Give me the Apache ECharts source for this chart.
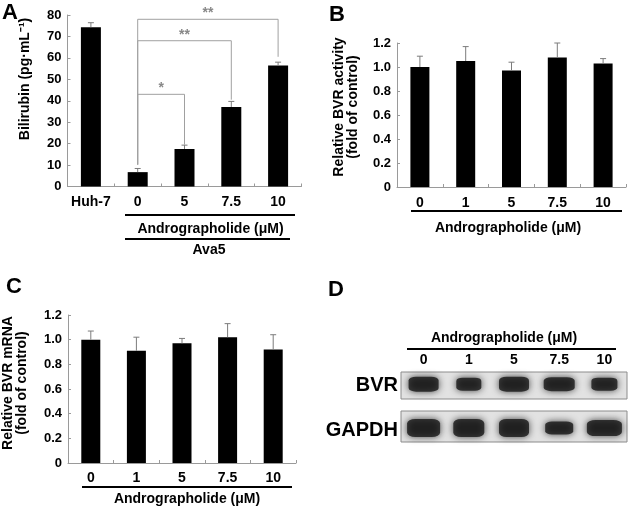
<!DOCTYPE html>
<html>
<head>
<meta charset="utf-8">
<script src="https://cdn.jsdelivr.net/npm/echarts@6/dist/echarts.min.js"></script>
<style>
  html, body { margin: 0; padding: 0; background: #fff; }
  #main { width: 630px; height: 510px; }
</style>
</head>
<body>
<div id="main"></div>
<script>
// ---- data ----
const catsA = ['Huh-7', '0', '5', '7.5', '10'];
const bilirubin = [74.3, 6.7, 17.5, 37.1, 56.4];
const bilirubinErr = [2.1, 1.7, 1.8, 2.6, 1.6];

// significance brackets (panel A): from bar, to bar, bracket height, bottom of left / right leg
const sigFrom = [1, 1, 1];
const sigTo = [2, 3, 4];
const sigLevel = [43, 68, 78];
const sigLeftEnd = [10.2, 10.2, 10.2];
const sigRightEnd = [19.5, 40.5, 60.5];
const sigText = ['*', '**', '**'];

const doses = ['0', '1', '5', '7.5', '10'];
const bvrActivity = [1.0, 1.05, 0.97, 1.08, 1.03];
const bvrActivityErr = [0.09, 0.12, 0.07, 0.12, 0.04];

const bvrMrna = [1.0, 0.91, 0.97, 1.02, 0.92];
const bvrMrnaErr = [0.07, 0.11, 0.04, 0.11, 0.12];

// western blot band size (width, height) per lane
const bvrBandW = [30, 25, 30, 31, 26];
const bvrBandH = [15, 13, 15, 14, 13];
const gapdhBandW = [33, 31, 30, 28, 35];
const gapdhBandH = [18, 18, 18, 13, 16];

// ---- helpers ----
const FONT = 'Liberation Sans, Arial, sans-serif';
const axisGray = '#9a9a9a';

function errItem(params, api) {
  const x = api.value(0);
  const p0 = api.coord([x, api.value(1)]);
  const p1 = api.coord([x, api.value(2)]);
  const st = { stroke: '#7c7c7c', lineWidth: 1 };
  return {
    type: 'group',
    children: [
      { type: 'line', shape: { x1: p0[0], y1: p0[1], x2: p1[0], y2: p1[1] }, style: st },
      { type: 'line', shape: { x1: p1[0] - 3, y1: p1[1], x2: p1[0] + 3, y2: p1[1] }, style: st }
    ]
  };
}

function errData(vals, errs) {
  return vals.map((v, i) => [i, v, v + errs[i]]);
}

function bracketItem(params, api) {
  const i = params.dataIndex;
  const a = api.coord([api.value(0), api.value(2)]);
  const b = api.coord([api.value(1), api.value(2)]);
  const aBot = api.coord([api.value(0), api.value(3)]);
  const bBot = api.coord([api.value(1), api.value(4)]);
  return {
    type: 'group',
    children: [
      {
        type: 'polyline',
        shape: { points: [aBot, a, b, bBot] },
        style: { stroke: '#a0a0a0', lineWidth: 1, fill: null }
      },
      {
        type: 'text',
        x: (a[0] + b[0]) / 2,
        y: a[1] + 1,
        style: {
          text: sigText[i], fill: '#888', font: 'bold 14px ' + FONT,
          align: 'center', verticalAlign: 'bottom'
        }
      }
    ]
  };
}

function catAxis(idx, data, margin) {
  return {
    type: 'category', gridIndex: idx, data: data,
    axisLine: { lineStyle: { color: axisGray, width: 1 } },
    axisTick: { show: true, inside: true, length: 3, lineStyle: { color: axisGray } },
    axisLabel: { interval: 0, color: '#000', fontFamily: FONT, fontWeight: 'bold', fontSize: 14, margin: margin },
    splitLine: { show: false }
  };
}

function valAxis(idx, max, interval, fmt) {
  return {
    type: 'value', gridIndex: idx, min: 0, max: max, interval: interval,
    axisLine: { show: true, lineStyle: { color: axisGray, width: 1 } },
    axisTick: { show: true, inside: true, length: 3, lineStyle: { color: axisGray } },
    axisLabel: { color: '#000', fontFamily: FONT, fontWeight: 'bold', fontSize: 13, margin: 6, formatter: fmt },
    splitLine: { show: false }
  };
}

const fmt1 = v => (v === 0 ? '0' : v.toFixed(1));

function label(text, x, y, size, align) {
  return {
    type: 'text', x: x, y: y, silent: true,
    style: {
      text: text, fill: '#000', font: 'bold ' + size + 'px ' + FONT,
      align: align || 'center', verticalAlign: 'middle'
    }
  };
}

function vLabel(text, x, y) {
  return {
    type: 'text', x: x, y: y, rotation: Math.PI / 2, silent: true,
    style: {
      text: text, fill: '#000', font: 'bold 14px ' + FONT,
      align: 'center', verticalAlign: 'middle', lineHeight: 14
    }
  };
}

function hLine(x1, x2, y) {
  return {
    type: 'line', silent: true,
    shape: { x1: x1, y1: y, x2: x2, y2: y },
    style: { stroke: '#000', lineWidth: 2 }
  };
}

const chart = echarts.init(document.getElementById('main'), null, { renderer: 'canvas' });

const bandStyle = {
  color: '#161616',
  shadowBlur: 7,
  shadowColor: 'rgba(10,10,10,0.9)'
};

const option = {
  backgroundColor: '#fff',
  animation: false,
  grid: [
    { left: 67.5, top: 15, width: 234, height: 171.5 },
    { left: 397, top: 43, width: 229, height: 144 },
    { left: 68, top: 315, width: 228, height: 148 },
    { left: 401, top: 372, width: 226, height: 27, show: true, backgroundColor: '#e2e2e2', borderColor: '#8c8c8c', borderWidth: 1 },
    { left: 401, top: 411, width: 226, height: 31, show: true, backgroundColor: '#e2e2e2', borderColor: '#8c8c8c', borderWidth: 1 }
  ],
  xAxis: [
    catAxis(0, catsA, 9),
    catAxis(1, doses, 9),
    catAxis(2, doses, 8),
    {
      type: 'category', gridIndex: 3, data: doses, position: 'top',
      axisLine: { show: false }, axisTick: { show: false },
      axisLabel: { interval: 0, color: '#000', fontFamily: FONT, fontWeight: 'bold', fontSize: 14, margin: 5 }
    },
    { type: 'category', gridIndex: 4, data: doses, show: false }
  ],
  yAxis: [
    valAxis(0, 80, 10, v => String(v)),
    valAxis(1, 1.2, 0.2, fmt1),
    valAxis(2, 1.2, 0.2, fmt1),
    { type: 'value', gridIndex: 3, min: 0, max: 1, show: false },
    { type: 'value', gridIndex: 4, min: 0, max: 1, show: false }
  ],
  series: [
    {
      type: 'bar', xAxisIndex: 0, yAxisIndex: 0, data: bilirubin,
      barWidth: 20, itemStyle: { color: '#000' }
    },
    {
      type: 'custom', xAxisIndex: 0, yAxisIndex: 0, z: 3,
      data: errData(bilirubin, bilirubinErr), renderItem: errItem
    },
    {
      type: 'custom', xAxisIndex: 0, yAxisIndex: 0, z: 4,
      data: sigFrom.map((f, i) => [f, sigTo[i], sigLevel[i], sigLeftEnd[i], sigRightEnd[i]]),
      renderItem: bracketItem
    },
    {
      type: 'bar', xAxisIndex: 1, yAxisIndex: 1, data: bvrActivity,
      barWidth: 19, itemStyle: { color: '#000' }
    },
    {
      type: 'custom', xAxisIndex: 1, yAxisIndex: 1, z: 3,
      data: errData(bvrActivity, bvrActivityErr), renderItem: errItem
    },
    {
      type: 'bar', xAxisIndex: 2, yAxisIndex: 2, data: bvrMrna,
      barWidth: 19, itemStyle: { color: '#000' }
    },
    {
      type: 'custom', xAxisIndex: 2, yAxisIndex: 2, z: 3,
      data: errData(bvrMrna, bvrMrnaErr), renderItem: errItem
    },
    {
      type: 'scatter', xAxisIndex: 3, yAxisIndex: 3, symbol: 'roundRect',
      data: bvrBandW.map((w, i) => [i, 0.55, w, bvrBandH[i]]),
      symbolSize: v => [v[2], v[3]],
      itemStyle: bandStyle
    },
    {
      type: 'scatter', xAxisIndex: 4, yAxisIndex: 4, symbol: 'roundRect',
      data: gapdhBandW.map((w, i) => [i, 0.45, w, gapdhBandH[i]]),
      symbolSize: v => [v[2], v[3]],
      itemStyle: bandStyle
    }
  ],
  graphic: [
    label('A', 10, 13, 22),
    label('B', 337, 15, 22),
    label('C', 14, 287, 22),
    label('D', 336, 290, 22),
    vLabel('Bilirubin (pg·mL⁻¹)', 25, 79),
    vLabel('Relative BVR activity\n(fold of control)', 346.5, 107),
    vLabel('Relative BVR mRNA\n(fold of control)', 15, 383),
    hLine(125, 295, 215),
    label('Andrographolide (μM)', 210.5, 229, 14),
    hLine(125, 290, 239),
    label('Ava5', 209, 250, 14),
    hLine(411, 622, 211),
    label('Andrographolide (μM)', 508, 228, 14),
    hLine(82, 292, 487),
    label('Andrographolide (μM)', 187, 499, 14),
    label('Andrographolide (μM)', 504, 338, 14),
    hLine(407, 616, 349),
    label('BVR', 398, 385, 20, 'right'),
    label('GAPDH', 398, 430, 20, 'right')
  ]
};

chart.setOption(option);
</script>
</body>
</html>
